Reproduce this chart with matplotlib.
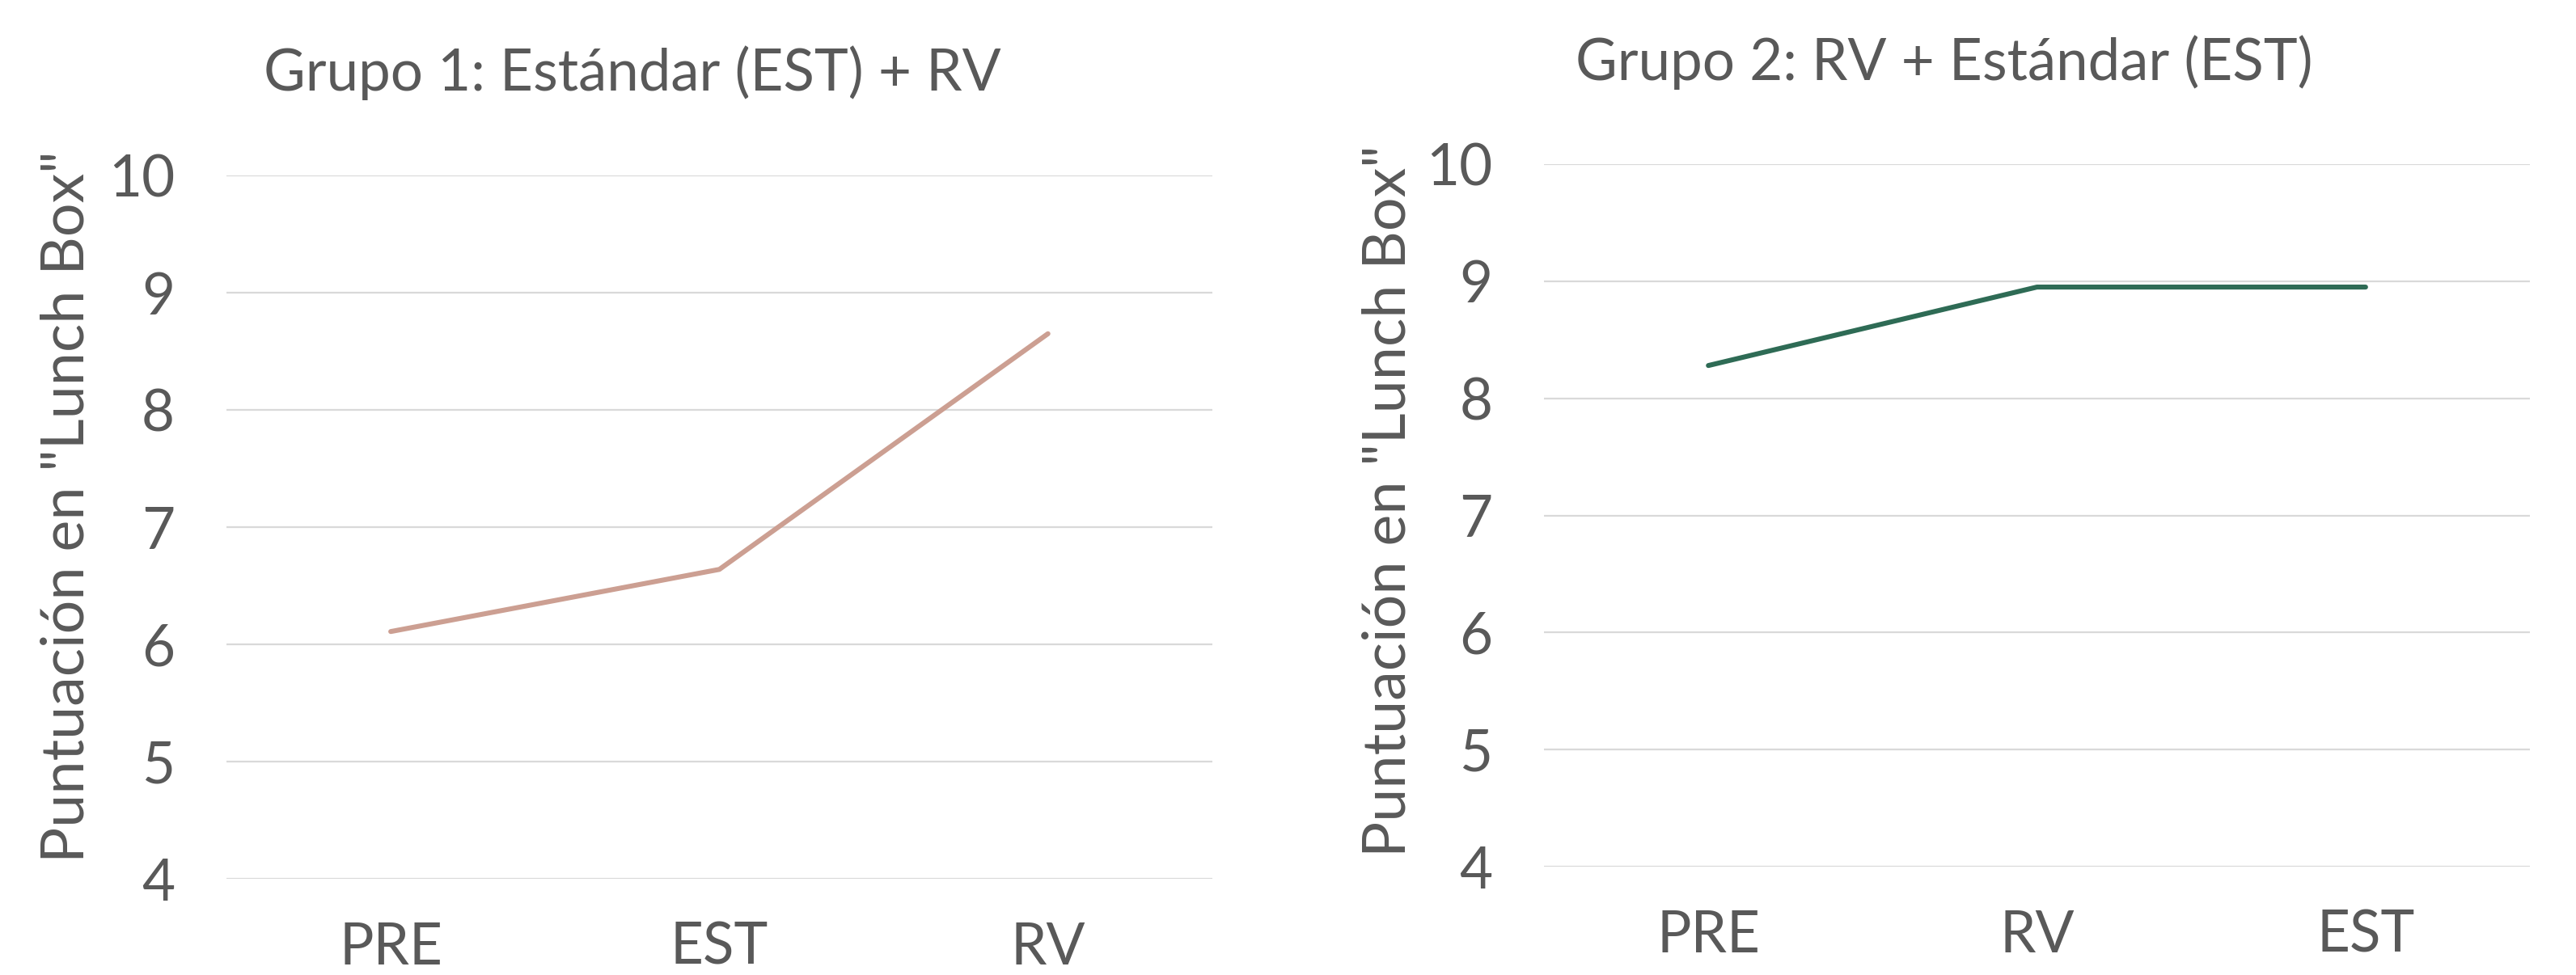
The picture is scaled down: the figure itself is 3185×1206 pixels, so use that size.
import matplotlib
matplotlib.use("Agg")
import matplotlib.pyplot as plt

# data
cats_g1 = ["PRE", "EST", "RV"]
vals_g1 = [6.11, 6.64, 8.65]
cats_g2 = ["PRE", "RV", "EST"]
vals_g2 = [8.28, 8.95, 8.95]
yticks = [4, 5, 6, 7, 8, 9, 10]

title_g1 = "Grupo 1: Estándar (EST) + RV"
title_g2 = "Grupo 2: RV + Estándar (EST)"
ylab = 'Puntuación en "Lunch Box"'

txt = "#595959"
plt.rcParams['font.family'] = ['Lato', 'DejaVu Sans']

fig = plt.figure(figsize=(31.85, 12.06), dpi=100)

def panel(rect, cats, vals, color, title, title_xy, ylab_xy):
    ax = fig.add_axes(rect)
    x = list(range(len(cats)))
    ax.plot(x, vals, color=color, linewidth=4.4, solid_capstyle='round', zorder=3)
    ax.set_xlim(-0.5, len(cats) - 0.5)
    ax.set_ylim(4, 10)
    ax.set_yticks(yticks)
    ax.set_xticks(x)
    ax.set_xticklabels(cats)
    ax.grid(axis='y', color='#D9D9D9', linewidth=1.6)
    ax.set_axisbelow(True)
    for s in ax.spines.values():
        s.set_visible(False)
    ax.tick_params(axis='both', length=0, labelsize=51, colors=txt)
    ax.tick_params(axis='y', pad=46)
    ax.tick_params(axis='x', pad=38)
    fig.text(title_xy[0], title_xy[1], title, ha='center', va='center', fontsize=51, color=txt)
    fig.text(ylab_xy[0], ylab_xy[1], ylab, rotation=90, ha='center', va='center',
             fontsize=53, color=txt)
    return ax

panel([0.0879, 0.0985, 0.3827, 0.7216], cats_g1, vals_g1, "#CC9F92", title_g1, (0.2455, 0.925), (0.0262, 0.480))
panel([0.5994, 0.1110, 0.3827, 0.7207], cats_g2, vals_g2, "#2E6B55", title_g2, (0.7548, 0.936), (0.5392, 0.486))

fig.savefig("out.png", dpi=100, facecolor='white')
